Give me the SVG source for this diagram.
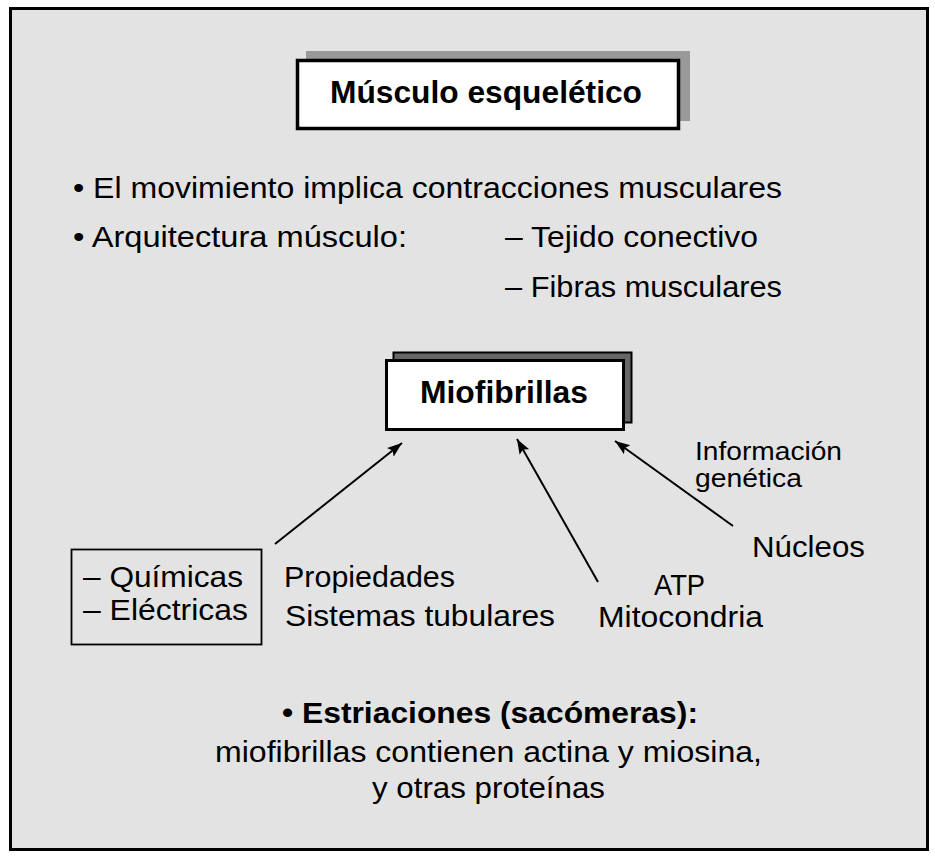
<svg xmlns="http://www.w3.org/2000/svg" width="935" height="856" viewBox="0 0 935 856">
<defs>
<style>
text{font-family:"Liberation Sans",Arial,sans-serif;fill:#000}
.t{font-size:29px}
.s{font-size:25px}
.b{font-weight:bold}
.conn line{stroke:#000;stroke-width:2}
</style>
<marker id="ah" markerUnits="userSpaceOnUse" markerWidth="16" markerHeight="12" refX="15" refY="5.5" orient="auto">
<path d="M0,0 L15,5.5 L0,11 L3,5.5 z" fill="#000"/>
</marker>
</defs>
<rect x="10.5" y="8.5" width="917" height="841" fill="#e3e3e3" stroke="#000" stroke-width="3"/>
<g id="title">
<rect x="306" y="51" width="384" height="70" fill="#999"/>
<rect x="297.5" y="60.5" width="381" height="68" fill="#fff" stroke="#000" stroke-width="3.5"/>
<text x="330" y="103" class="b" font-size="31" textLength="312" lengthAdjust="spacingAndGlyphs">Músculo esquelético</text>
</g>
<g id="bullets">
<text x="73" y="198" class="t" textLength="709" lengthAdjust="spacingAndGlyphs">• El movimiento implica contracciones musculares</text>
<text x="73" y="247" class="t" textLength="334" lengthAdjust="spacingAndGlyphs">• Arquitectura músculo:</text>
<text x="505" y="247" class="t" textLength="253" lengthAdjust="spacingAndGlyphs">– Tejido conectivo</text>
<text x="505" y="297" class="t" textLength="277" lengthAdjust="spacingAndGlyphs">– Fibras musculares</text>
</g>
<g id="miofibrillas">
<rect x="393.5" y="352.5" width="238" height="70" fill="#666" stroke="#000" stroke-width="2"/>
<rect x="386.5" y="360.5" width="237" height="69" fill="#fff" stroke="#000" stroke-width="3"/>
<text x="420" y="403" class="b" font-size="31" textLength="168" lengthAdjust="spacingAndGlyphs">Miofibrillas</text>
</g>
<g id="quimicas">
<rect x="71.5" y="549.5" width="190" height="95" fill="none" stroke="#000" stroke-width="1.8"/>
<text x="83" y="587" class="t" textLength="160" lengthAdjust="spacingAndGlyphs">– Químicas</text>
<text x="83" y="620" class="t" textLength="165" lengthAdjust="spacingAndGlyphs">– Eléctricas</text>
</g>
<g id="propiedades">
<text x="284" y="587" class="t" textLength="171" lengthAdjust="spacingAndGlyphs">Propiedades</text>
<text x="285" y="626" class="t" textLength="270" lengthAdjust="spacingAndGlyphs">Sistemas tubulares</text>
</g>
<g id="mitocondria">
<text x="654" y="595" class="t" textLength="51" lengthAdjust="spacingAndGlyphs">ATP</text>
<text x="598" y="627" class="t" textLength="165" lengthAdjust="spacingAndGlyphs">Mitocondria</text>
</g>
<g id="nucleos">
<text x="752" y="557" class="t" textLength="113" lengthAdjust="spacingAndGlyphs">Núcleos</text>
</g>
<g id="info">
<text x="695" y="460" class="s" textLength="147" lengthAdjust="spacingAndGlyphs">Información</text>
<text x="695" y="487" class="s" textLength="107" lengthAdjust="spacingAndGlyphs">genética</text>
</g>
<g id="estriaciones">
<text x="282" y="723" class="t b" textLength="416" lengthAdjust="spacingAndGlyphs">• Estriaciones (sacómeras):</text>
<text x="215" y="762" class="t" textLength="547" lengthAdjust="spacingAndGlyphs">miofibrillas contienen actina y miosina,</text>
<text x="372" y="798" class="t" textLength="233" lengthAdjust="spacingAndGlyphs">y otras proteínas</text>
</g>
<g class="conn" id="connectors">
<line x1="275" y1="544" x2="402" y2="443" marker-end="url(#ah)"/>
<line x1="598" y1="582" x2="517" y2="439" marker-end="url(#ah)"/>
<line x1="733" y1="526" x2="615" y2="441" marker-end="url(#ah)"/>
</g>
</svg>
